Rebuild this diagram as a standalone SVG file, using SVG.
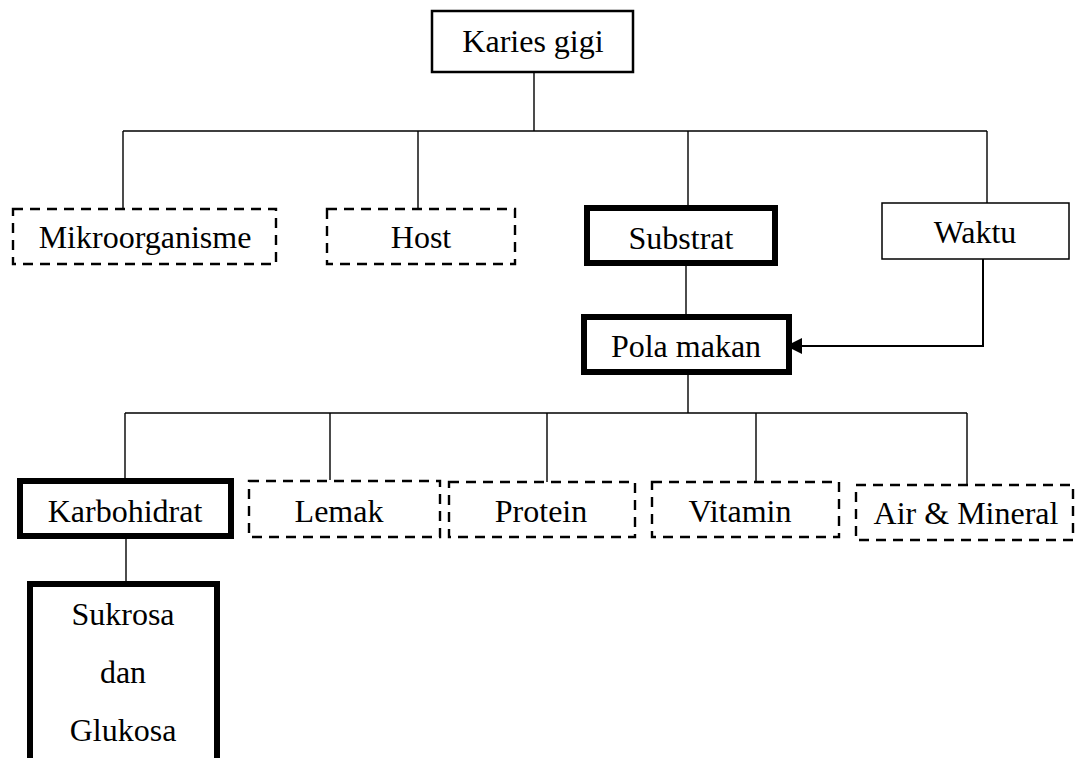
<svg xmlns="http://www.w3.org/2000/svg" width="1083" height="758" viewBox="0 0 1083 758">
<style>
text{font-family:"Liberation Serif","Times New Roman",serif;font-size:32px;fill:#000;text-anchor:middle}
.thin{fill:#fff;stroke:#000;stroke-width:2.5}
.plain{fill:#fff;stroke:#000;stroke-width:1.5}
.dash{fill:#fff;stroke:#000;stroke-width:2.4;stroke-dasharray:10,7}
.bold{fill:#fff;stroke:#000;stroke-width:6}
.conn{fill:none;stroke:#000;stroke-width:1.4}
</style>
<rect width="1083" height="758" fill="#fff"/>
<g id="connectors">
<path class="conn" d="M534,72 V131 M123,131 H987 M123,131 V208 M418,131 V208 M688,131 V205 M987,131 V203"/>
<path class="conn" d="M686,266 V314"/>
<path d="M983,259 V346 H790" fill="none" stroke="#000" stroke-width="2"/>
<path d="M786,346 L802,338 L802,354 Z" fill="#000"/>
<path class="conn" d="M688,375 V413 M125,413 H967 M125,413 V478 M330,413 V480 M547,413 V482 M756,413 V482 M967,413 V485"/>
<path class="conn" d="M126,539 V590"/>
</g>
<g id="karies"><rect class="thin" x="432" y="11" width="201" height="61"/><text x="533" y="52">Karies gigi</text></g>
<g id="mikroorganisme"><rect class="dash" x="13" y="209" width="263" height="55"/><text x="145" y="248">Mikroorganisme</text></g>
<g id="host"><rect class="dash" x="327" y="209" width="188" height="55"/><text x="421" y="248">Host</text></g>
<g id="substrat"><rect class="bold" x="587" y="208" width="188" height="55"/><text x="681" y="249">Substrat</text></g>
<g id="waktu"><rect class="plain" x="882" y="203" width="187" height="56"/><text x="975" y="243">Waktu</text></g>
<g id="pola"><rect class="bold" x="584" y="317" width="205" height="55"/><text x="686" y="357">Pola makan</text></g>
<g id="karbohidrat"><rect class="bold" x="20" y="481" width="211" height="55"/><text x="125" y="522">Karbohidrat</text></g>
<g id="lemak"><rect class="dash" x="249" y="481" width="191" height="56"/><text x="339" y="522">Lemak</text></g>
<g id="protein"><rect class="dash" x="449" y="482" width="186" height="55"/><text x="541" y="522">Protein</text></g>
<g id="vitamin"><rect class="dash" x="652" y="482" width="187" height="55"/><text x="740" y="522">Vitamin</text></g>
<g id="air"><rect class="dash" x="856" y="485" width="217" height="55"/><text x="966" y="524">Air &amp; Mineral</text></g>
<g id="sukrosa"><rect class="bold" x="30" y="584" width="187" height="190"/><text x="123" y="625">Sukrosa</text><text x="123" y="683">dan</text><text x="123" y="741">Glukosa</text></g>
</svg>
